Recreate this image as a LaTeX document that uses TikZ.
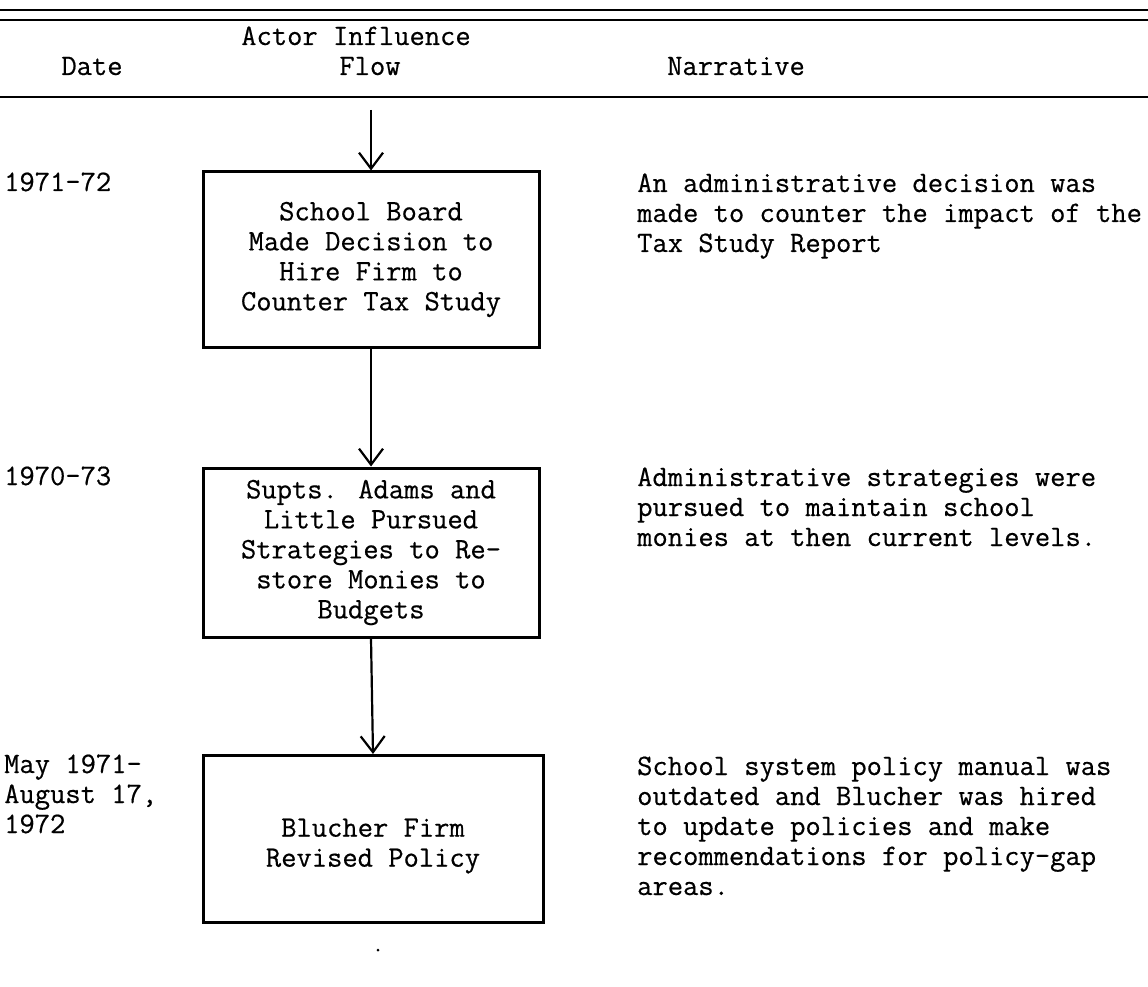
\documentclass[tikz,border=0pt]{standalone}
\usepackage{fontspec}
\setmainfont{Latin Modern Mono}[FakeBold=0.5]
\usetikzlibrary{arrows.meta}
\begin{document}
\begin{tikzpicture}[x=1pt,y=-1pt,
  txt/.style={inner sep=0pt, font=\fontsize{29.7}{30}\selectfont},
  box/.style={draw, line width=3pt, inner sep=0pt, align=center, font=\fontsize{29.7}{30}\selectfont},
  rule/.style={line width=2.5pt},
  arr/.style={line width=2.2pt, -{Straight Barb[length=16pt,width=24pt,line width=2.2pt]}}]
\useasboundingbox (0,0) rectangle (1148,987);
% rules
\draw[rule] (0,10) -- (1148,10);
\draw[rule] (0,20) -- (1148,20);
\draw[rule] (0,97) -- (1148,97);
% header
\node[txt, anchor=base] (hA) at (356,45) {Actor Influence};
\node[txt, anchor=base] (hF) at (370,75) {Flow};
\node[txt, anchor=base] (hD) at (92,75) {Date};
\node[txt, anchor=base] (hN) at (736,75) {Narrative};
% boxes
\node[box, minimum width=336pt, minimum height=175pt] (b1) at (371,259.5)
  {School Board\\Made Decision to\\Hire Firm to\\Counter Tax Study};
\node[box, minimum width=336pt, minimum height=169pt] (b2) at (371,552.5)
  {Supts. Adams and\\Little Pursued\\Strategies to Re-\\store Monies to\\Budgets};
\node[box, minimum width=340pt, minimum height=167pt] (b3) at (373,839) {};
\node[txt, align=center] (t3) at (373,846) {Blucher Firm\\Revised Policy};
% connectors
\coordinate (start) at (371,110);
\draw[arr] (start) -- (b1.north);
\draw[arr] (b1.south) -- (b2.north);
\draw[arr] (b2.south) -- (b3.north);
% stray dot
\fill (378,950) circle (1.5pt);
% dates
\node[txt, anchor=base west] (d1) at (4,191) {1971-72};
\node[txt, anchor=base west] (d2) at (4,485) {1970-73};
\node[txt, anchor=base west] (d3) at (4,773)
  {\vtop{\hbox{May 1971-}\hbox{August 17,}\hbox{1972}}};
% narratives
\node[txt, anchor=base west] (n1) at (637,192)
  {\vtop{\hbox{An administrative decision was}\hbox{made to counter the impact of the}\hbox{Tax Study Report}}};
\node[txt, anchor=base west] (n2) at (637,486)
  {\vtop{\hbox{Administrative strategies were}\hbox{pursued to maintain school}\hbox{monies at then current levels.}}};
\node[txt, anchor=base west] (n3) at (637,775)
  {\vtop{\hbox{School system policy manual was}\hbox{outdated and Blucher was hired}\hbox{to update policies and make}\hbox{recommendations for policy-gap}\hbox{areas.}}};
\end{tikzpicture}
\end{document}
